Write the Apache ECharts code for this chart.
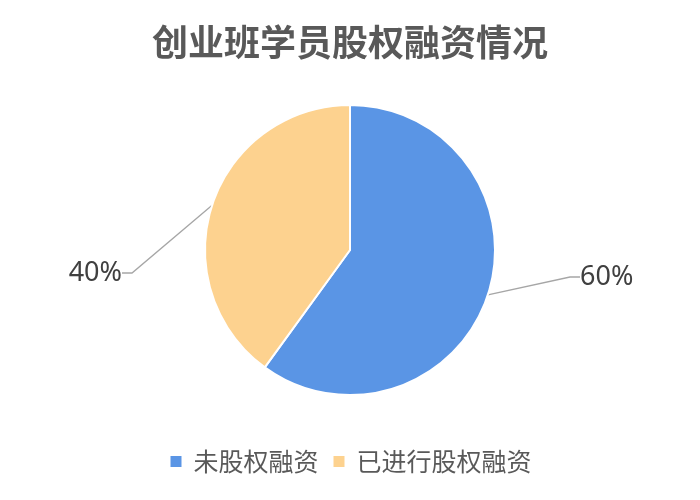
<!DOCTYPE html>
<html><head><meta charset="utf-8">
<script src="https://cdn.jsdelivr.net/npm/echarts@6/dist/echarts.min.js"></script>
<style>html,body{margin:0;padding:0;background:#fff}#c{width:700px;height:500px}</style>
</head><body><div id="c"></div>
<script>
const title = '创业班学员股权融资情况';
const categories = ['未股权融资', '已进行股权融资'];
const values = [60, 40];
const colors = ['#5A95E5', '#FDD28F'];

const chart = echarts.init(document.getElementById('c'));
chart.setOption({
  backgroundColor: '#fff',
  color: colors,
  title: {
    text: title, left: 'center', top: 19,
    textStyle: {fontFamily: 'Noto Sans CJK SC', fontSize: 36, fontWeight: 'bold', color: '#595959'}
  },
  legend: {
    bottom: 21, left: 'center', icon: 'rect', itemWidth: 13, itemHeight: 13, itemGap: 13,
    textStyle: {fontFamily: 'Noto Sans CJK SC', fontSize: 25, color: '#595959', padding: [0, 0, 0, 6]},
    data: categories
  },
  series: [{
    type: 'pie',
    center: ['50%', '50%'],
    radius: 145,
    startAngle: 90,
    clockwise: true,
    itemStyle: {borderColor: '#fff', borderWidth: 2},
    label: {
      show: true, formatter: '{d}%',
      fontFamily: 'Noto Sans', fontSize: 27, color: '#404040', padding: [0, 6]
    },
    labelLine: {show: true, length: 30, length2: 10, lineStyle: {color: '#A6A6A6', width: 1.3}},
    labelLayout: function (p) {
      const W = chart.getWidth(), H = chart.getHeight();
      if (p.dataIndex === 0) return {x: W / 2 + 224, y: H / 2 + 27, align: 'left', verticalAlign: 'middle'};
      return {x: W / 2 - 222, y: H / 2 + 23, align: 'right', verticalAlign: 'middle'};
    },
    data: categories.map((n, i) => ({name: n, value: values[i]}))
  }]
});
</script></body></html>
